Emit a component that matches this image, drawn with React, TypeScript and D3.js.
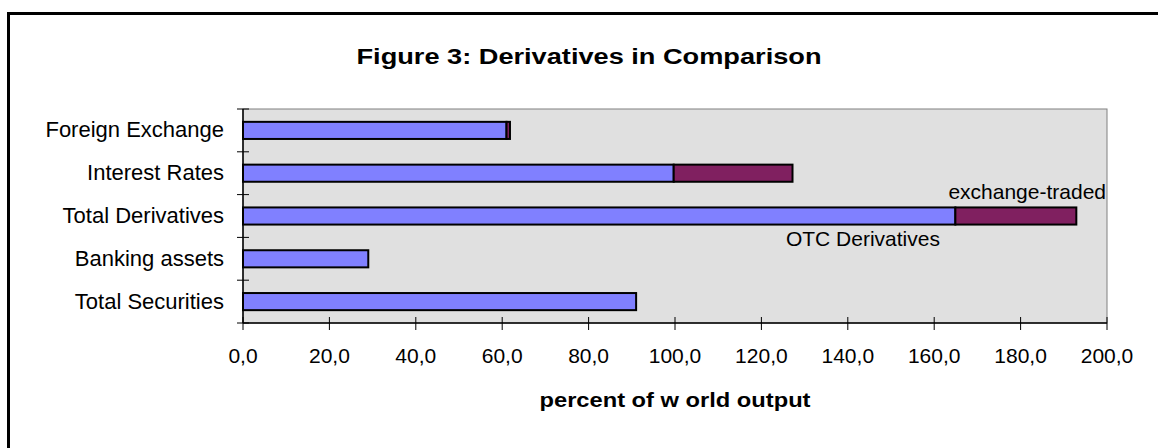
import React from 'react';
import * as d3 from 'd3';

const categories = ['Foreign Exchange', 'Interest Rates', 'Total Derivatives', 'Banking assets', 'Total Securities'];
const otcValues = [61.0, 99.7, 164.9, 29.0, 91.0];
const exchangeValues = [0.8, 27.5, 28.0, 0, 0];
const xTicks = [0, 20, 40, 60, 80, 100, 120, 140, 160, 180, 200];

const W = 1158;
const H = 448;
const margin = { top: 109, right: 51, bottom: 125, left: 243 };

const fmt = (v: number) => v.toFixed(1).replace('.', ',');

const App: React.FC = () => {
  const x = d3.scaleLinear().domain([0, 200]).range([margin.left, W - margin.right]);
  const y = d3.scaleBand<string>()
    .domain(categories)
    .range([margin.top, H - margin.bottom])
    .paddingInner(0.6)
    .paddingOuter(0.3);
  const step = y.step();
  const top = margin.top;
  const bottom = H - margin.bottom;
  const font = 'Arial, "Liberation Sans", sans-serif';

  const stacked = categories.map((c, i) => ({
    cat: c,
    segs: [
      { x0: 0, x1: otcValues[i], fill: '#8080ff' },
      { x0: otcValues[i], x1: otcValues[i] + exchangeValues[i], fill: '#802060' },
    ].filter(s => s.x1 > s.x0),
  }));

  const derivY = (y('Total Derivatives') || 0) + y.bandwidth() / 2;

  return (
    <svg width={W} height={H} style={{ position: 'absolute', left: 0, top: 0, background: '#fff' }} fontFamily={font}>
      {/* outer frame */}
      <rect x={8.5} y={13.5} width={1300} height={600} fill="none" stroke="#000" strokeWidth={3} />

      <text x={589} y={64} textAnchor="middle" fontSize={22} fontWeight="bold" textLength={465} lengthAdjust="spacingAndGlyphs">
        Figure 3: Derivatives in Comparison
      </text>

      {/* plot area */}
      <rect x={x(0)} y={top} width={x(200) - x(0)} height={bottom - top} fill="#e0e0e0" stroke="#808080" strokeWidth={1} />

      {stacked.map(d => d.segs.map((s, j) => (
        <rect key={d.cat + j}
          x={x(s.x0)} y={y(d.cat)} width={x(s.x1) - x(s.x0)} height={y.bandwidth()}
          fill={s.fill} stroke="#000" strokeWidth={2} />
      )))}

      {/* y axis */}
      <line x1={x(0)} x2={x(0)} y1={top} y2={bottom} stroke="#000" strokeWidth={1.5} />
      {d3.range(categories.length + 1).map(i => (
        <line key={i} x1={x(0) - 6} x2={x(0) + 6} y1={top + i * (bottom - top) / categories.length} y2={top + i * (bottom - top) / categories.length} stroke="#000" strokeWidth={1} />
      ))}
      {categories.map(c => (
        <text key={c} x={224} y={(y(c) || 0) + y.bandwidth() / 2 + 7} textAnchor="end" fontSize={22}>{c}</text>
      ))}

      {/* x axis */}
      <line x1={x(0)} x2={x(200)} y1={bottom} y2={bottom} stroke="#000" strokeWidth={1.5} />
      {xTicks.map(t => (
        <g key={t}>
          <line x1={x(t)} x2={x(t)} y1={bottom - 6} y2={bottom + 7} stroke="#000" strokeWidth={1} />
          <text x={x(t)} y={363} textAnchor="middle" fontSize={21}>{fmt(t)}</text>
        </g>
      ))}

      <text x={(x(0) + x(200)) / 2} y={407} textAnchor="middle" fontSize={21} fontWeight="bold" textLength={271} lengthAdjust="spacingAndGlyphs">
        percent of w orld output
      </text>

      {/* annotations */}
      <text x={x(200) - 1} y={derivY - step / 2 + 4} textAnchor="end" fontSize={21}>exchange-traded</text>
      <text x={x(143.5)} y={derivY + step / 2 + 9} textAnchor="middle" fontSize={21}>OTC Derivatives</text>
    </svg>
  );
};

export default App;
